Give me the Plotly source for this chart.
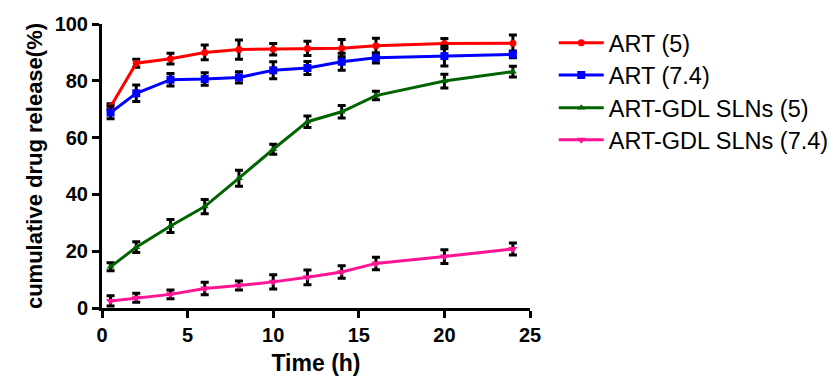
import plotly.graph_objects as go

time_h = [0.5, 2, 4, 6, 8, 10, 12, 14, 16, 20, 24]

art5 = [70.9, 86.2, 87.8, 90.0, 91.0, 91.1, 91.4, 91.5, 92.3, 93.1, 93.2]
art5_err = [1.0, 1.4, 1.9, 2.6, 3.4, 2.0, 2.5, 3.0, 2.7, 1.8, 2.9]

art74 = [68.8, 75.6, 80.4, 80.6, 81.2, 83.7, 84.5, 86.7, 88.1, 88.7, 89.3]
art74_err = [2.2, 2.9, 2.2, 2.2, 2.0, 3.0, 2.3, 3.0, 1.8, 3.5, 1.2]

sln5 = [14.5, 21.4, 28.9, 35.7, 45.7, 55.9, 65.6, 69.1, 74.8, 79.9, 83.2]
sln5_err = [1.4, 1.9, 2.3, 2.5, 2.8, 1.8, 2.0, 2.2, 1.5, 2.4, 1.9]

sln74 = [2.5, 3.6, 4.8, 6.9, 7.9, 9.2, 10.8, 12.7, 15.7, 18.1, 20.8]
sln74_err = [1.8, 1.6, 1.5, 2.2, 1.6, 2.5, 2.6, 2.2, 2.2, 2.4, 2.1]

names = ["ART (5)", "ART (7.4)", "ART-GDL SLNs (5)", "ART-GDL SLNs (7.4)"]
colors = ["#FF0000", "#0000FF", "#006400", "#FF1493"]
symbols = ["circle", "square", "triangle-up", "triangle-down"]
sizes = [7, 8, 7, 8]
series = [(art5, art5_err), (art74, art74_err), (sln5, sln5_err), (sln74, sln74_err)]

FONT = "Arial, Liberation Sans, sans-serif"
legend_ids = ["legend", "legend2", "legend3", "legend4"]
legend_y = [0.933, 0.820, 0.704, 0.592]

fig = go.Figure()
for i, (vals, errs) in enumerate(series):
    fig.add_trace(go.Scatter(
        x=time_h, y=vals, name=names[i], mode="lines+markers",
        legend=legend_ids[i],
        line=dict(color=colors[i], width=3),
        marker=dict(color=colors[i], symbol=symbols[i], size=sizes[i]),
        error_y=dict(type="data", array=errs, visible=True, color="black",
                     thickness=3, width=4),
        cliponaxis=False,
    ))

layout_legends = {}
for lid, ly in zip(legend_ids, legend_y):
    layout_legends[lid] = dict(
        x=1.053, y=ly, xanchor="left", yanchor="middle",
        font=dict(family=FONT, size=23.5, color="black"),
        itemwidth=45, bgcolor="rgba(0,0,0,0)",
    )

fig.update_layout(
    width=837, height=383,
    margin=dict(l=94, r=314, t=16, b=83),
    paper_bgcolor="white", plot_bgcolor="white",
    showlegend=True,
    xaxis=dict(
        range=[0, 25], tickvals=[0, 5, 10, 15, 20, 25],
        showgrid=False, zeroline=False, automargin=False,
        showline=True, linecolor="black", linewidth=3,
        ticks="outside", ticklen=7, tickwidth=3, tickcolor="black",
        tickfont=dict(family=FONT, size=20, color="black", weight="bold"),
        title=dict(text="Time (h)", standoff=10,
                   font=dict(family=FONT, size=23, color="black", weight="bold")),
    ),
    yaxis=dict(
        range=[0, 100], tickvals=[0, 20, 40, 60, 80, 100],
        showgrid=False, zeroline=False, automargin=False,
        showline=True, linecolor="black", linewidth=3,
        ticks="outside", ticklen=7, tickwidth=3, tickcolor="black",
        tickfont=dict(family=FONT, size=20, color="black", weight="bold"),
        title=dict(text="cumulative drug release(%)", standoff=6,
                   font=dict(family=FONT, size=22, color="black", weight="bold")),
    ),
    **layout_legends,
)

fig.write_html("out.html")
